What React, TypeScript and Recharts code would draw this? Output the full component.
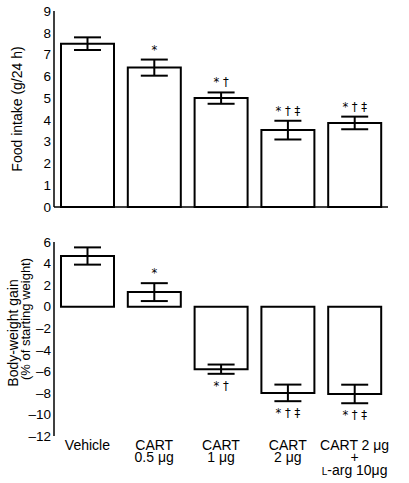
import React from 'react';
import { BarChart, Bar, XAxis, YAxis, ErrorBar, LabelList } from 'recharts';

const categories = ['Vehicle', 'CART\n0.5 μg', 'CART\n1 μg', 'CART\n2 μg', 'CART 2 μg\n+\nL-arg 10μg'];
const foodIntake = [7.5, 6.4, 5.0, 3.53, 3.86];
const foodIntakeErr = [0.29, 0.37, 0.26, 0.43, 0.29];
const weightGain = [4.7, 1.35, -5.8, -8.0, -8.1];
const weightGainErr = [0.8, 0.83, 0.43, 0.77, 0.86];
const significance = ['', '*', '* †', '* † ‡', '* † ‡'];
const foodTicks = [0, 1, 2, 3, 4, 5, 6, 7, 8, 9];
const gainTicks = [-12, -10, -8, -6, -4, -2, 0, 2, 4, 6];

const foodData = categories.map((name, i) => ({ name, value: foodIntake[i], err: foodIntakeErr[i] }));
const gainData = categories.map((name, i) => ({ name, value: weightGain[i], err: weightGainErr[i] }));

const FONT = '"Liberation Sans", Arial, Helvetica, sans-serif';
const tickStyle = { fill: '#000', fontSize: 13.5, fontFamily: FONT };

// significance marks sit just past the end of each error bar
const makeSigLabel = (errs: number[]) => (props: any) => {
    const { x, y, width, height, value, index } = props;
    const sig = significance[index];
    if (!sig) return null;
    const v = Number(value);
    const pxPerUnit = Math.abs(height) / Math.abs(v);
    const errPx = errs[index] * pxPerUnit;
    const cx = x + width / 2;
    const ty = v >= 0 ? Math.min(y, y + height) - errPx - 6 : Math.max(y, y + height) + errPx + 16;
    return (
        <text x={cx} y={ty} textAnchor="middle" fontSize={11.5} fontFamily='"DejaVu Sans", sans-serif' fill="#000" style={{ whiteSpace: 'pre' }}>
            {sig}
        </text>
    );
};

const CategoryTick = (props: any) => {
    const { x, y, payload } = props;
    const lines: string[] = String(payload.value).split('\n');
    return (
        <text x={x} y={y + 12} textAnchor="middle" fontSize={14} fontFamily={FONT} fill="#000">
            {lines.map((line, i) => (
                <tspan key={i} x={x} dy={i === 0 ? 0 : 12.3}>
                    {line.startsWith('L-') ? (
                        <>
                            <tspan fontSize={10}>L</tspan>
                            <tspan>{line.slice(1)}</tspan>
                        </>
                    ) : (
                        line
                    )}
                </tspan>
            ))}
        </text>
    );
};

const dash = (v: number) => (v < 0 ? `–${Math.abs(v)}` : `${v}`);

export default function App() {
    return (
        <div style={{ position: 'absolute', left: 0, top: 0, width: 409, height: 483, background: '#fff' }}>
            <div style={{ position: 'absolute', left: 0, top: 0 }}>
                <BarChart width={409} height={215} data={foodData} margin={{ top: 11, right: 21, left: 0, bottom: 7 }}>
                    <XAxis dataKey="name" tick={false} tickLine={false} height={1} axisLine={{ stroke: '#000', strokeWidth: 1.5 }} />
                    <YAxis
                        width={54}
                        domain={[0, 9]}
                        ticks={foodTicks}
                        interval={0}
                        tickSize={0}
                        tickMargin={3}
                        tickLine={false}
                        axisLine={{ stroke: '#000', strokeWidth: 1.5 }}
                        tick={tickStyle}
                        label={{
                            content: ({ viewBox }: any) => (
                                <text
                                    x={17}
                                    y={viewBox.y + viewBox.height / 2}
                                    transform={`rotate(-90 17 ${viewBox.y + viewBox.height / 2})`}
                                    textAnchor="middle"
                                    dominantBaseline="central"
                                    fontSize={14}
                                    fontFamily={FONT}
                                    fill="#000"
                                >
                                    Food intake (g/24 h)
                                </text>
                            ),
                        }}
                    />
                    <Bar dataKey="value" fill="#fff" stroke="#000" strokeWidth={2} barSize={53} isAnimationActive={false}>
                        <ErrorBar dataKey="err" width={13.5} stroke="#000" strokeWidth={2} />
                        <LabelList dataKey="value" content={makeSigLabel(foodIntakeErr)} />
                    </Bar>
                </BarChart>
            </div>
            <div style={{ position: 'absolute', left: 0, top: 220 }}>
                <BarChart width={409} height={263} data={gainData} margin={{ top: 22, right: 21, left: 0, bottom: 0 }}>
                    <XAxis dataKey="name" axisLine={false} tickLine={false} tickSize={0} height={47} interval={0} tick={<CategoryTick />} />
                    <YAxis
                        width={54}
                        domain={[-12, 6]}
                        ticks={gainTicks}
                        interval={0}
                        tickSize={0}
                        tickMargin={3}
                        tickLine={false}
                        tickFormatter={dash}
                        axisLine={{ stroke: '#000', strokeWidth: 1.5 }}
                        tick={tickStyle}
                        label={{
                            content: () => (
                                <g fontFamily={FONT} fill="#000">
                                    <text x={13} y={113} transform="rotate(-90 13 113)" textAnchor="middle" dominantBaseline="central" fontSize={14}>
                                        Body-weight gain
                                    </text>
                                    <text x={25} y={99} transform="rotate(-90 25 99)" textAnchor="middle" dominantBaseline="central" fontSize={13}>
                                        (% of starting weight)
                                    </text>
                                </g>
                            ),
                        }}
                    />
                    <Bar dataKey="value" fill="#fff" stroke="#000" strokeWidth={2} barSize={53} isAnimationActive={false}>
                        <ErrorBar dataKey="err" width={13.5} stroke="#000" strokeWidth={2} />
                        <LabelList dataKey="value" content={makeSigLabel(weightGainErr)} />
                    </Bar>
                </BarChart>
            </div>
        </div>
    );
}
